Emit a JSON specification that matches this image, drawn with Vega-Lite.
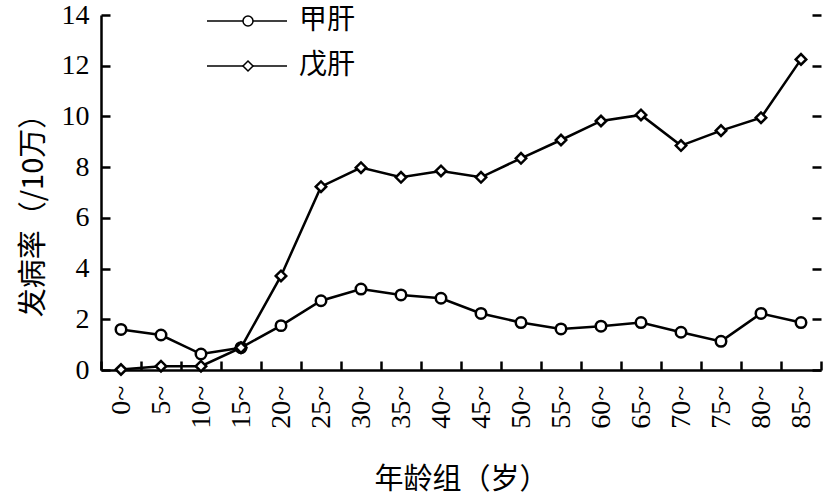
{
  "$schema": "https://vega.github.io/schema/vega-lite/v6.json",
  "width": 720,
  "height": 355,
  "autosize": {"type": "none"},
  "padding": {"left": 101, "top": 15, "right": 11, "bottom": 128},
  "background": "white",
  "config": {
    "view": {"stroke": null},
    "font": "Liberation Serif, Noto Sans CJK SC",
    "axis": {
      "grid": true,
      "gridColor": "black",
      "gridWidth": 2.5,
      "gridOpacity": 1,
      "ticks": false,
      "domainColor": "black",
      "domainWidth": 2.5,
      "labelColor": "black",
      "titleColor": "black",
      "labelFont": "Liberation Serif",
      "labelFontSize": 28,
      "titleFont": "Noto Sans CJK SC",
      "titleFontSize": 29,
      "titleFontWeight": "normal"
    }
  },
  "data": {
    "values": [
      {"age": "0~", "series": "甲肝", "rate": 1.6},
      {"age": "5~", "series": "甲肝", "rate": 1.38},
      {"age": "10~", "series": "甲肝", "rate": 0.63},
      {"age": "15~", "series": "甲肝", "rate": 0.88},
      {"age": "20~", "series": "甲肝", "rate": 1.75},
      {"age": "25~", "series": "甲肝", "rate": 2.73},
      {"age": "30~", "series": "甲肝", "rate": 3.19},
      {"age": "35~", "series": "甲肝", "rate": 2.96},
      {"age": "40~", "series": "甲肝", "rate": 2.83},
      {"age": "45~", "series": "甲肝", "rate": 2.23},
      {"age": "50~", "series": "甲肝", "rate": 1.87},
      {"age": "55~", "series": "甲肝", "rate": 1.62},
      {"age": "60~", "series": "甲肝", "rate": 1.73},
      {"age": "65~", "series": "甲肝", "rate": 1.87},
      {"age": "70~", "series": "甲肝", "rate": 1.49},
      {"age": "75~", "series": "甲肝", "rate": 1.13},
      {"age": "80~", "series": "甲肝", "rate": 2.23},
      {"age": "85~", "series": "甲肝", "rate": 1.87},
      {"age": "0~", "series": "戊肝", "rate": 0.02},
      {"age": "5~", "series": "戊肝", "rate": 0.15},
      {"age": "10~", "series": "戊肝", "rate": 0.15},
      {"age": "15~", "series": "戊肝", "rate": 0.88},
      {"age": "20~", "series": "戊肝", "rate": 3.71},
      {"age": "25~", "series": "戊肝", "rate": 7.23},
      {"age": "30~", "series": "戊肝", "rate": 7.98},
      {"age": "35~", "series": "戊肝", "rate": 7.6},
      {"age": "40~", "series": "戊肝", "rate": 7.85},
      {"age": "45~", "series": "戊肝", "rate": 7.6},
      {"age": "50~", "series": "戊肝", "rate": 8.35},
      {"age": "55~", "series": "戊肝", "rate": 9.07},
      {"age": "60~", "series": "戊肝", "rate": 9.82},
      {"age": "65~", "series": "戊肝", "rate": 10.06},
      {"age": "70~", "series": "戊肝", "rate": 8.85},
      {"age": "75~", "series": "戊肝", "rate": 9.44},
      {"age": "80~", "series": "戊肝", "rate": 9.95},
      {"age": "85~", "series": "戊肝", "rate": 12.25}
    ]
  },
  "encoding": {
    "x": {
      "field": "age",
      "type": "ordinal",
      "sort": null,
      "scale": {"type": "band", "paddingInner": 0, "paddingOuter": 0},
      "axis": {
        "title": "年龄组（岁）",
        "labelAngle": -90,
        "labelAlign": "right",
        "labelBaseline": "middle",
        "tickBand": "extent",
        "gridDash": [9, 2000],
        "gridDashOffset": 1663,
        "labelPadding": 15,
        "titlePadding": 37
      }
    },
    "y": {
      "field": "rate",
      "type": "quantitative",
      "scale": {"domain": [0, 14], "nice": false},
      "axis": {
        "title": "发病率（/10万）",
        "values": [0, 2, 4, 6, 8, 10, 12, 14],
        "gridDash": [9, 702, 9, 2000],
        "labelPadding": 12,
        "titlePadding": 13,
        "titleY": 193
      }
    }
  },
  "layer": [
    {
      "mark": {"type": "line", "strokeWidth": 2.5},
      "encoding": {
        "detail": {"field": "series", "type": "nominal"},
        "color": {
          "field": "series",
          "type": "nominal",
          "scale": {"range": ["black", "black"]},
          "legend": {
            "title": null,
            "orient": "none",
            "legendX": 105,
            "legendY": -8,
            "symbolType": "stroke",
            "symbolSize": 6400,
            "clipHeight": 28,
            "labelFontSize": 28,
            "labelOpacity": 0,
            "rowPadding": 17
          }
        }
      }
    },
    {
      "mark": {"type": "point", "filled": true, "fill": "white", "stroke": "black", "strokeWidth": 2.5, "size": 110, "opacity": 1},
      "encoding": {
        "shape": {
          "field": "series",
          "type": "nominal",
          "scale": {"domain": ["甲肝", "戊肝"], "range": ["circle", "diamond"]},
          "legend": {
            "title": null,
            "orient": "none",
            "legendX": 133,
            "legendY": -8,
            "labelFontSize": 28,
            "labelOffset": 37,
            "rowPadding": 17
          }
        }
      }
    }
  ]
}
